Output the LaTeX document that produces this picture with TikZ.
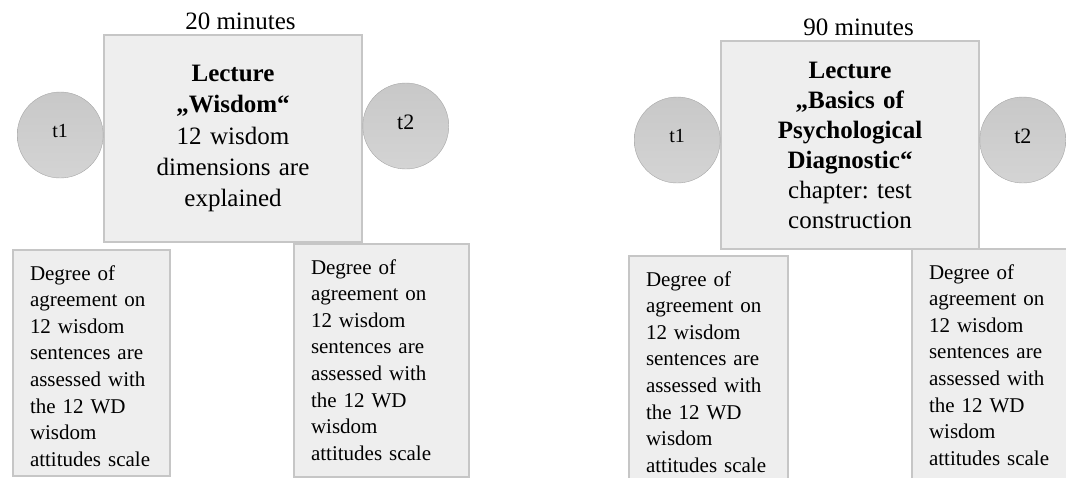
\documentclass[tikz,border=0pt]{standalone}
\usepackage{fontspec}
\setmainfont{Liberation Serif}
\usetikzlibrary{positioning}
\frenchspacing

\definecolor{boxfill}{RGB}{238,238,238}
\definecolor{boxline}{RGB}{198,198,198}
\definecolor{dotline}{RGB}{166,166,166}
\definecolor{dottop}{RGB}{200,200,200}
\definecolor{dotbottom}{RGB}{212,212,212}

\begin{document}
\begin{tikzpicture}[x=1pt, y=-1pt]
		\tikzstyle{lecture}=[rectangle, draw=boxline, line width=1.2pt, fill=boxfill, minimum width=258pt, minimum height=207pt, text width=240pt, align=center, inner sep=0pt, font=\fontsize{25}{31.3}\selectfont]
		\tikzstyle{timepoint}=[circle, draw=dotline, top color=dottop, bottom color=dotbottom, minimum size=86pt, inner sep=0pt, text depth=8pt]
		\tikzstyle{ratingbox}=[rectangle, draw=boxline, line width=2pt, fill=boxfill, anchor=north west, align=left, inner xsep=17pt, inner ysep=15pt, text height=15pt, font=\fontsize{21}{26.6}\selectfont]
		\tikzstyle{minutelabel}=[anchor=base, inner sep=0pt, font=\fontsize{25}{30}\selectfont]

		\useasboundingbox (0,0) rectangle (1066,477);
		\clip (0,0) rectangle (1066,477);

		% first session
		\node[lecture] (lecA) at (233,138.5) {
			\textbf{Lecture}\\ \textbf{„Wisdom“}\\ 12 wisdom\\ dimensions are\\ explained
		};
		\node[minutelabel] (minA) at (240.5,29) {20 minutes};
		\node[timepoint, left=0pt of lecA, yshift=3.5pt, font=\fontsize{20}{24}\selectfont] (preA) {t1};
		\node[timepoint, right=0pt of lecA, yshift=12.5pt, font=\fontsize{22}{26}\selectfont] (postA) {t2};

		\node[ratingbox, text width=123pt, text depth=181pt] (rateA1) at (12,249) {
			Degree of\\ agreement on\\ 12 wisdom\\ sentences are\\ assessed with\\ the 12 WD\\ wisdom\\ attitudes scale
		};
		\node[ratingbox, text width=141pt, text depth=188pt] (rateA2) at (293,243) {
			Degree of\\ agreement on\\ 12 wisdom\\ sentences are\\ assessed with\\ the 12 WD\\ wisdom\\ attitudes scale
		};

		% second session
		\node[lecture, minimum height=208pt, font=\fontsize{25}{30}\selectfont] (lecB) at (850,145) {
			\textbf{Lecture}\\ \textbf{„Basics of}\\ \textbf{Psychological}\\ \textbf{Diagnostic“}\\ chapter: test\\ construction
		};
		\node[minutelabel] (minB) at (858.5,35) {90 minutes};
		\node[timepoint, left=0pt of lecB, yshift=5pt, font=\fontsize{20}{24}\selectfont] (preB) {t1};
		\node[timepoint, right=0pt of lecB, yshift=5pt, font=\fontsize{22}{26}\selectfont] (postB) {t2};

		\node[ratingbox, text width=125pt, text depth=200pt] (rateB1) at (628,255) {
			Degree of\\ agreement on\\ 12 wisdom\\ sentences are\\ assessed with\\ the 12 WD\\ wisdom\\ attitudes scale
		};
		\node[ratingbox, text width=141pt, text depth=200pt] (rateB2) at (911,248) {
			Degree of\\ agreement on\\ 12 wisdom\\ sentences are\\ assessed with\\ the 12 WD\\ wisdom\\ attitudes scale
		};

	\end{tikzpicture}
\end{document}
